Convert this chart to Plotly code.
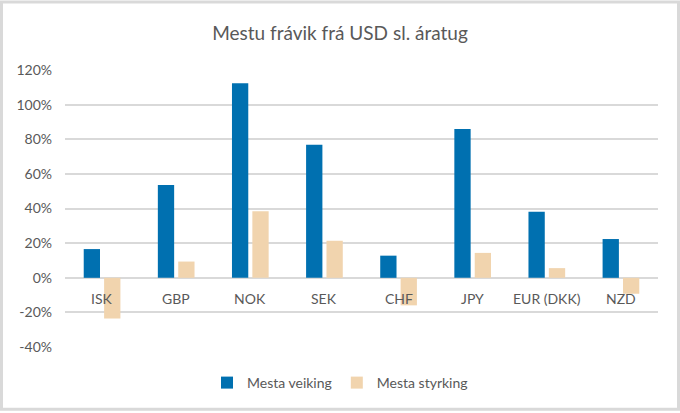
import plotly.graph_objects as go

# Gjaldmiðlar og mesta frávik frá USD (hlutfall)
currencies = ["ISK", "GBP", "NOK", "SEK", "CHF", "JPY", "EUR (DKK)", "NZD"]
weakening = [0.166, 0.536, 1.124, 0.768, 0.128, 0.860, 0.381, 0.224]
strengthening = [-0.235, 0.094, 0.385, 0.214, -0.159, 0.144, 0.056, -0.092]
y_ticks = [-0.4, -0.2, 0, 0.2, 0.4, 0.6, 0.8, 1.0, 1.2]
y_labels = ["-40%", "-20%", "0%", "20%", "40%", "60%", "80%", "100%", "120%"]

W, H = 680, 413
L, R, T, B = 65, 22, 70, 64
FONT = "Lato, Calibri, sans-serif"
GREY = "#595959"

fig = go.Figure()
fig.add_trace(go.Bar(
    x=currencies, y=weakening, name="Mesta veiking",
    marker=dict(color="#0070B0", line=dict(width=0)),
))
fig.add_trace(go.Bar(
    x=currencies, y=strengthening, name="Mesta styrking",
    marker=dict(color="#F1D4AE", line=dict(width=0)),
))

# flokkaheiti rétt undir núlllínunni, eins og í Excel
for c in currencies:
    fig.add_annotation(
        x=c, y=0, xref="x", yref="y", text=c, showarrow=False,
        yshift=-21, font=dict(family=FONT, size=14, color=GREY),
    )

# grár rammi utan um allt
fig.add_shape(
    type="rect", xref="paper", yref="paper",
    x0=-(L - 1.5) / (W - L - R), x1=1 + (R - 1.5) / (W - L - R),
    y0=-(B - 1.5) / (H - T - B), y1=1 + (T - 1.5) / (H - T - B),
    line=dict(color="#D9D9D9", width=3), layer="below",
)

fig.update_layout(
    width=W, height=H,
    margin=dict(l=L, r=R, t=T, b=B),
    paper_bgcolor="white", plot_bgcolor="white",
    font=dict(family=FONT, color=GREY),
    title=dict(
        text="Mestu frávik frá USD sl. áratug",
        x=0.5, xref="container", xanchor="center",
        y=1 - 33 / H, yref="container", yanchor="middle",
        font=dict(family=FONT, size=19, color=GREY),
    ),
    barmode="group", bargap=0.45, bargroupgap=0.2,
    showlegend=True,
    legend=dict(
        orientation="h", x=0.5, xref="container", xanchor="center",
        y=1 - 383 / H, yref="container", yanchor="middle",
        font=dict(family=FONT, size=14, color=GREY),
        itemwidth=30, traceorder="normal",
    ),
    xaxis=dict(showticklabels=False, showgrid=False, zeroline=False,
               showline=False, ticks=""),
    yaxis=dict(
        range=[-0.4, 1.2], tickmode="array",
        tickvals=y_ticks, ticktext=y_labels,
        showgrid=True, gridcolor="#D9D9D9", gridwidth=1.5,
        zeroline=True, zerolinecolor="#D9D9D9", zerolinewidth=1.5,
        showline=False, ticks="", ticklabelstandoff=12,
        tickfont=dict(family=FONT, size=14, color=GREY),
    ),
)

# síðan sjálf á ekki að hafa spássíu
fig.write_html(
    "out.html",
    config={"displayModeBar": False},
    post_script="document.body.style.margin='0';",
)
